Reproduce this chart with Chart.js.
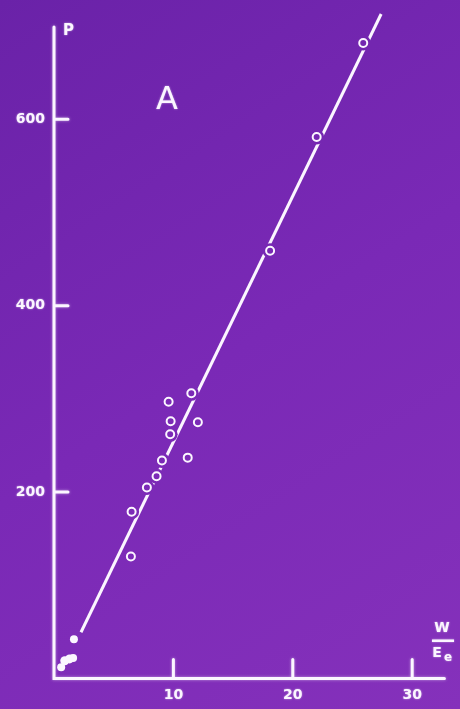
<!DOCTYPE html>
<html>
<head>
<meta charset="utf-8">
<script src="https://cdn.jsdelivr.net/npm/chart.js@4/dist/chart.umd.min.js"></script>
<style>
  html, body { margin: 0; padding: 0; background: #7a2ab6; }
  #wrap { width: 460px; height: 709px; }
</style>
</head>
<body>
<div id="wrap"><canvas id="chart" width="460" height="709"></canvas></div>
<script>
// measured points (open circles)
const circleX = [6.44, 6.5, 7.78, 8.59, 9.04, 11.2, 9.73, 9.77, 12.05, 9.6, 11.5, 18.1, 22.0, 25.9];
const circleY = [131, 179, 205, 217, 234, 237, 262, 276, 275, 297, 306, 459, 581, 682];
// filled dots near the origin
const dotX = [0.6, 0.9, 1.3, 1.6, 1.67];
const dotY = [12, 19, 21, 22, 42];
// fitted line
const lineX = [2.26, 27.4];
const lineY = [49.6, 713];
// axis ticks
const xTicks = [10, 20, 30];
const yTicks = [200, 400, 600];

const pts = (xs, ys) => xs.map((x, i) => ({ x: x, y: ys[i] }));

var canvas = document.getElementById('chart');
var context = canvas.getContext('2d');

// slide background, also used to "cut" the line around the circles
var bg = context.createLinearGradient(0, 0, 460, 709);
bg.addColorStop(0, '#6a22a8');
bg.addColorStop(0.5, '#7a29b6');
bg.addColorStop(1, '#8531bb');

const white = '#fbf6ff';

//Axes, ticks and labels drawn with the chart scales
const slidePlugin = {
    id: 'slide',
    beforeDraw(chart) {
        const c = chart.ctx;
        c.save();
        c.fillStyle = bg;
        c.fillRect(0, 0, chart.width, chart.height);
        c.restore();
    },
    beforeDatasetsDraw(chart) {
        const c = chart.ctx;
        const xs = chart.scales.x, ys = chart.scales.y;
        const x0 = xs.getPixelForValue(0), y0 = ys.getPixelForValue(0);
        c.save();
        c.strokeStyle = white;
        c.lineWidth = 3;
        c.lineCap = 'round';
        c.shadowColor = 'rgba(255,255,255,0.5)';
        c.shadowBlur = 3;
        c.beginPath();
        c.moveTo(x0, ys.getPixelForValue(699));
        c.lineTo(x0, y0);
        c.lineTo(xs.getPixelForValue(32.7), y0);
        yTicks.forEach(v => {
            const p = ys.getPixelForValue(v);
            c.moveTo(x0, p);
            c.lineTo(x0 + 14, p);
        });
        xTicks.forEach(v => {
            const p = xs.getPixelForValue(v);
            c.moveTo(p, y0);
            c.lineTo(p, y0 - 19);
        });
        c.stroke();
        c.restore();
    },
    afterDraw(chart) {
        const c = chart.ctx;
        const xs = chart.scales.x, ys = chart.scales.y;
        const x0 = xs.getPixelForValue(0), y0 = ys.getPixelForValue(0);
        c.save();
        c.fillStyle = white;
        c.shadowColor = 'rgba(255,255,255,0.6)';
        c.shadowBlur = 2;
        c.font = 'bold 14px "DejaVu Sans"';
        c.textAlign = 'right';
        c.textBaseline = 'middle';
        yTicks.forEach(v => c.fillText(String(v), x0 - 9, ys.getPixelForValue(v)));
        c.textAlign = 'center';
        c.textBaseline = 'top';
        xTicks.forEach(v => c.fillText(String(v), xs.getPixelForValue(v), y0 + 10));

        c.font = 'bold 15px "DejaVu Sans"';
        c.textAlign = 'left';
        c.textBaseline = 'middle';
        c.fillText('P', x0 + 9, 31);

        c.font = '32px "DejaVu Sans"';
        c.textAlign = 'center';
        c.fillText('A', 167, 101);

        // W / Ee fraction
        c.font = 'bold 14px "DejaVu Sans"';
        c.fillText('W', 442, 628);
        c.fillRect(432, 639.5, 22, 2.5);
        c.fillText('E', 437, 653);
        c.font = 'bold 12px "DejaVu Sans"';
        c.fillText('e', 448, 658);
        c.restore();
    }
};

var chart = new Chart(context, {
    type: 'scatter',
    data: {
        datasets: [
            {
                label: 'fit',
                data: pts(lineX, lineY),
                showLine: true,
                borderColor: white,
                borderWidth: 3,
                pointRadius: 0,
                order: 4
            },
            {
                label: 'halo',
                data: pts(circleX, circleY),
                pointRadius: 7.5,
                backgroundColor: bg,
                borderWidth: 0,
                order: 3
            },
            {
                label: 'points',
                data: pts(circleX, circleY),
                pointRadius: 4,
                borderWidth: 2,
                borderColor: white,
                backgroundColor: bg,
                order: 2
            },
            {
                label: 'dots',
                data: pts(dotX, dotY),
                pointRadius: [4, 4.5, 4.5, 4, 4],
                borderWidth: 0,
                backgroundColor: white,
                order: 1
            }
        ]
    },
    options: {
        responsive: false,
        animation: false,
        layout: { padding: { left: 54, right: 12, top: 3.5, bottom: 30.5 } },
        plugins: { legend: { display: false }, tooltip: { enabled: false } },
        scales: {
            x: { type: 'linear', min: 0, max: 33, display: false },
            y: { type: 'linear', min: 0, max: 720, display: false }
        }
    },
    plugins: [slidePlugin]
});
</script>
</body>
</html>
